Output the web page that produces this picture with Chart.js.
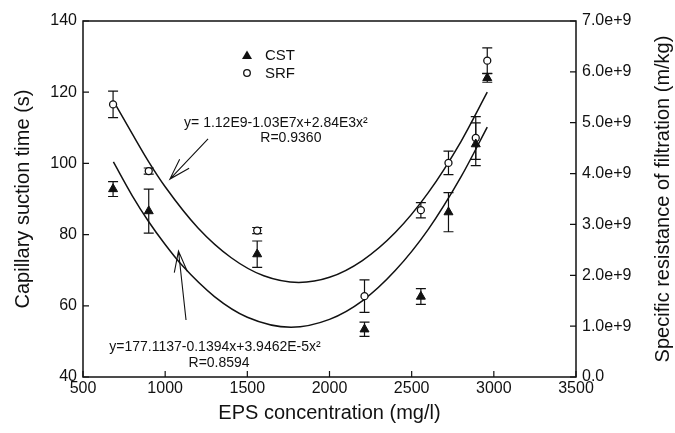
<!DOCTYPE html>
<html>
<head>
<meta charset="utf-8">
<script src="https://cdn.jsdelivr.net/npm/chart.js@4.4.0/dist/chart.umd.min.js"></script>
<style>
html,body{margin:0;padding:0;background:#fff;}
canvas{display:block;}
</style>
</head>
<body>
<canvas id="c" width="675" height="433"></canvas>
<script>
// ---- data ----
const eps    = [683, 900, 1560, 2213, 2556, 2724, 2890, 2960];
const cst    = [92.8, 86.6, 74.5, 53.4, 62.6, 86.3, 105.4, 124.0];
const cstErr = [2.1, 6.2, 3.7, 2.0, 2.2, 5.5, 6.0, 1.2];
const srf    = [5.36e9, 4.05e9, 2.88e9, 1.59e9, 3.28e9, 4.21e9, 4.70e9, 6.22e9];
const srfErr = [0.26e9, 0.06e9, 0.06e9, 0.32e9, 0.15e9, 0.23e9, 0.42e9, 0.25e9];

// fitted curves
const cstFitX = [685, 800, 900, 1000, 1100, 1300, 1500, 1766, 2000, 2200, 2400, 2600, 2800, 2960];
const cstFitY = [100.4, 90.9, 83.6, 77.2, 71.5, 62.6, 56.8, 54.0, 56.2, 61.4, 69.9, 81.4, 96.2, 110.2];
const srfFitX = [690, 800, 900, 1000, 1200, 1400, 1600, 1813, 2000, 2200, 2400, 2600, 2800, 2960];
const srfFitY = [5.40e9, 4.78e9, 4.23e9, 3.74e9, 2.93e9, 2.35e9, 1.99e9, 1.86e9, 1.96e9, 2.29e9, 2.84e9, 3.62e9, 4.63e9, 5.60e9];

// axes
const xRange  = [500, 3500], xStep = 500;
const yRange  = [40, 140],   yStep = 20;
const y2Range = [0, 7e9],    y2Step = 1e9;

const labels = {
  x: 'EPS concentration (mg/l)',
  y: 'Capillary suction time (s)',
  y2: 'Specific resistance of filtration (m/kg)',
  cst: 'CST', srf: 'SRF'
};

// annotations (in data units: x = EPS, y = CST scale)
const notes = [
  {text: 'y= 1.12E9-1.03E7x+2.84E3x\u00B2', x: 1674, y: 111.3},
  {text: 'R=0.9360', x: 1765, y: 107.2},
  {text: 'y=177.1137-0.1394x+3.9462E-5x\u00B2', x: 1303, y: 48.4},
  {text: 'R=0.8594', x: 1328, y: 44.0}
];
const arrows = [
  {from: [1261, 106.9], to: [1029, 95.6]},
  {from: [1127, 56.0],  to: [1081, 75.4]}
];

const FONT = "'Liberation Sans', Arial, sans-serif";
const INK = '#111';

const pts = (xs, ys) => xs.map((v, i) => ({x: v, y: ys[i]}));

const decor = {
  id: 'decor',
  beforeDatasetsDraw(chart) {
    const {ctx, scales: {x, y, y2}} = chart;
    ctx.save();
    ctx.strokeStyle = INK;
    ctx.lineWidth = 1.2;
    const cap = 5;
    const bar = (xv, v, e, sc) => {
      const px = x.getPixelForValue(xv);
      const t = sc.getPixelForValue(v + e), b = sc.getPixelForValue(v - e);
      ctx.beginPath();
      ctx.moveTo(px, t); ctx.lineTo(px, b);
      ctx.moveTo(px - cap, t); ctx.lineTo(px + cap, t);
      ctx.moveTo(px - cap, b); ctx.lineTo(px + cap, b);
      ctx.stroke();
    };
    eps.forEach((xv, i) => {
      bar(xv, cst[i], cstErr[i], y);
      bar(xv, srf[i], srfErr[i], y2);
    });
    ctx.restore();
  },
  afterDraw(chart) {
    const {ctx, chartArea: a, scales: {x, y, y2}} = chart;
    ctx.save();
    ctx.strokeStyle = INK;
    ctx.lineWidth = 1.5;
    ctx.strokeRect(a.left, a.top, a.right - a.left, a.bottom - a.top);
    // inward ticks
    ctx.lineWidth = 1.2;
    const tl = 6;
    ctx.beginPath();
    x.ticks.forEach((t, i) => { const p = x.getPixelForTick(i); ctx.moveTo(p, a.bottom); ctx.lineTo(p, a.bottom - tl); });
    y.ticks.forEach((t, i) => { const p = y.getPixelForTick(i); ctx.moveTo(a.left, p); ctx.lineTo(a.left + tl, p); });
    y2.ticks.forEach((t, i) => { const p = y2.getPixelForTick(i); ctx.moveTo(a.right, p); ctx.lineTo(a.right - tl, p); });
    ctx.stroke();

    // right axis title, reading bottom-to-top
    ctx.save();
    ctx.translate(chart.width - 12, (a.top + a.bottom) / 2);
    ctx.rotate(-Math.PI / 2);
    ctx.font = '20px ' + FONT;
    ctx.fillStyle = INK;
    ctx.textAlign = 'center'; ctx.textBaseline = 'middle';
    ctx.fillText(labels.y2, 0, 0);
    ctx.restore();

    // legend
    const lx = a.left + 164, ly1 = a.top + 34, ly2 = a.top + 52;
    ctx.fillStyle = INK;
    ctx.beginPath();
    ctx.moveTo(lx, ly1 - 4.5); ctx.lineTo(lx + 5, ly1 + 4); ctx.lineTo(lx - 5, ly1 + 4); ctx.closePath();
    ctx.fill();
    ctx.beginPath();
    ctx.arc(lx, ly2, 3.3, 0, Math.PI * 2);
    ctx.fillStyle = '#fff'; ctx.fill();
    ctx.lineWidth = 1.3; ctx.stroke();
    ctx.fillStyle = INK;
    ctx.font = '15px ' + FONT;
    ctx.textAlign = 'left'; ctx.textBaseline = 'middle';
    ctx.fillText(labels.cst, lx + 18, ly1 + 1);
    ctx.fillText(labels.srf, lx + 18, ly2 + 1);

    // equations
    ctx.font = '14px ' + FONT;
    ctx.textAlign = 'center';
    notes.forEach(n => ctx.fillText(n.text, x.getPixelForValue(n.x), y.getPixelForValue(n.y)));

    // arrows
    ctx.lineWidth = 1.1;
    arrows.forEach(ar => {
      const x0 = x.getPixelForValue(ar.from[0]), y0 = y.getPixelForValue(ar.from[1]);
      const x1 = x.getPixelForValue(ar.to[0]),   y1 = y.getPixelForValue(ar.to[1]);
      const ang = Math.atan2(y0 - y1, x0 - x1);
      const hl = 22, ha = 0.3;
      ctx.beginPath();
      ctx.moveTo(x0, y0); ctx.lineTo(x1, y1);
      ctx.moveTo(x1 + hl * Math.cos(ang + ha), y1 + hl * Math.sin(ang + ha));
      ctx.lineTo(x1, y1);
      ctx.lineTo(x1 + hl * Math.cos(ang - ha), y1 + hl * Math.sin(ang - ha));
      ctx.stroke();
    });
    ctx.restore();
  }
};

const tickFont = {family: FONT, size: 16};
const titleFont = {family: FONT, size: 20};

new Chart(document.getElementById('c'), {
  type: 'scatter',
  data: {
    datasets: [
      {label: labels.cst, data: pts(eps, cst), yAxisID: 'y', order: 0,
       pointStyle: 'triangle', pointRadius: 5.2, pointHoverRadius: 5.2,
       backgroundColor: INK, borderColor: INK, borderWidth: 1},
      {label: labels.srf, data: pts(eps, srf), yAxisID: 'y2', order: 0,
       pointStyle: 'circle', pointRadius: 3.5, pointHoverRadius: 3.5,
       backgroundColor: '#fff', borderColor: INK, borderWidth: 1.3},
      {label: 'CST fit', data: pts(cstFitX, cstFitY), yAxisID: 'y', order: 1,
       showLine: true, pointRadius: 0, borderColor: INK, borderWidth: 1.5,
       cubicInterpolationMode: 'monotone', fill: false},
      {label: 'SRF fit', data: pts(srfFitX, srfFitY), yAxisID: 'y2', order: 1,
       showLine: true, pointRadius: 0, borderColor: INK, borderWidth: 1.5,
       cubicInterpolationMode: 'monotone', fill: false}
    ]
  },
  options: {
    responsive: false,
    animation: false,
    events: [],
    layout: {padding: {top: 21, left: 0, right: 0, bottom: 0}},
    plugins: {legend: {display: false}, tooltip: {enabled: false}},
    scales: {
      x: {
        type: 'linear', position: 'bottom', min: xRange[0], max: xRange[1],
        grid: {display: false, drawTicks: false}, border: {display: false},
        ticks: {stepSize: xStep, font: tickFont, color: INK, padding: 2, maxRotation: 0,
                callback: v => String(v)},
        title: {display: true, text: labels.x, font: titleFont, color: INK, padding: {top: 0, bottom: 8}},
        afterFit(s) { s.height = 56; }
      },
      y: {
        type: 'linear', position: 'left', min: yRange[0], max: yRange[1],
        grid: {display: false, drawTicks: false}, border: {display: false},
        ticks: {stepSize: yStep, font: tickFont, color: INK, padding: 6},
        title: {display: true, text: labels.y, font: titleFont, color: INK, padding: {top: 11, bottom: 0}},
        afterFit(s) { s.width = 83; }
      },
      y2: {
        type: 'linear', position: 'right', min: y2Range[0], max: y2Range[1],
        grid: {display: false, drawTicks: false}, border: {display: false},
        ticks: {stepSize: y2Step, font: tickFont, color: INK, padding: 6,
                callback: v => v === 0 ? '0.0' : Number(v).toExponential(1)},
        title: {display: false},
        afterFit(s) { s.width = 99; }
      }
    }
  },
  plugins: [decor]
});
</script>
</body>
</html>
